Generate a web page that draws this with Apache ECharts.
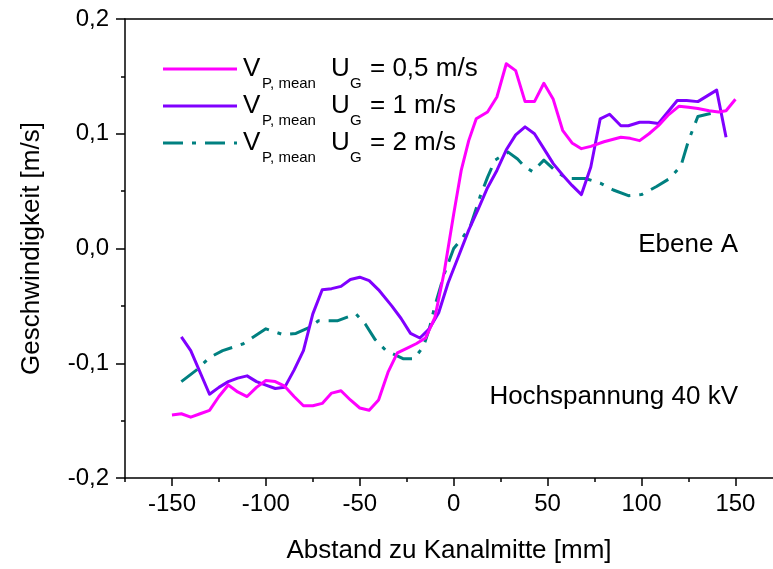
<!DOCTYPE html>
<html>
<head>
<meta charset="utf-8">
<script src="https://cdn.jsdelivr.net/npm/echarts@6/dist/echarts.min.js"></script>
<style>
html,body{margin:0;padding:0;background:#fff;}
#chart{width:773px;height:569px;}
</style>
</head>
<body>
<div id="chart"></div>
<script>
// ---- data (x in mm, y in m/s) ----
const seriesNames = ['V_P,mean U_G = 0,5 m/s', 'V_P,mean U_G = 1 m/s', 'V_P,mean U_G = 2 m/s'];
const legendValues = ['0,5 m/s', '1 m/s', '2 m/s'];

const dataUG05 = [
  [-150,-0.145],[-145,-0.144],[-140,-0.147],[-135,-0.144],[-130,-0.141],[-125,-0.129],
  [-120,-0.119],[-115,-0.125],[-110,-0.129],[-105,-0.121],[-100,-0.115],[-95,-0.116],
  [-90,-0.120],[-85,-0.129],[-80,-0.137],[-75,-0.137],[-70,-0.135],[-65,-0.126],
  [-60,-0.124],[-55,-0.132],[-50,-0.139],[-45,-0.141],[-40,-0.132],[-35,-0.108],
  [-30,-0.091],[-25,-0.087],[-20,-0.083],[-15,-0.078],[-10,-0.060],[-5,-0.020],
  [0,0.030],[4,0.068],[8,0.094],[12,0.113],[18,0.119],[23,0.132],[28,0.161],
  [33,0.155],[38,0.128],[43,0.128],[48,0.144],[53,0.130],[58,0.103],[63,0.092],
  [68,0.087],[73,0.089],[80,0.093],[89,0.097],[94,0.096],[99,0.094],[104,0.100],
  [109,0.107],[114,0.116],[120,0.124],[125,0.123],[130,0.122],[136,0.120],
  [141,0.119],[145,0.120],[150,0.130]
];

const dataUG1 = [
  [-145,-0.077],[-140,-0.089],[-130,-0.127],[-125,-0.121],[-120,-0.116],[-115,-0.113],
  [-110,-0.111],[-105,-0.116],[-100,-0.119],[-95,-0.122],[-90,-0.121],[-85,-0.106],
  [-80,-0.089],[-75,-0.057],[-70,-0.036],[-65,-0.035],[-60,-0.033],[-55,-0.027],
  [-50,-0.025],[-45,-0.028],[-40,-0.036],[-33,-0.050],[-28,-0.061],[-23,-0.074],
  [-18,-0.078],[-13,-0.070],[-8,-0.056],[-3,-0.030],[3,-0.005],[8,0.016],[13,0.034],
  [18,0.053],[23,0.068],[28,0.086],[33,0.099],[38,0.106],[43,0.100],[48,0.087],
  [53,0.074],[58,0.064],[63,0.055],[68,0.047],[73,0.071],[78,0.113],[83,0.117],
  [89,0.107],[93,0.107],[99,0.110],[104,0.110],[109,0.109],[114,0.119],[119,0.129],
  [124,0.129],[130,0.128],[135,0.133],[140,0.138],[145,0.097]
];

const dataUG2 = [
  [-145,-0.116],[-137,-0.106],[-130,-0.095],[-123,-0.089],[-112,-0.083],[-100,-0.070],
  [-91,-0.075],[-84,-0.074],[-77,-0.069],[-72,-0.063],[-62,-0.063],[-52,-0.057],
  [-47,-0.066],[-42,-0.079],[-36,-0.089],[-27,-0.096],[-21,-0.096],[-16,-0.085],
  [-13,-0.070],[-10,-0.050],[-5,-0.022],[0,0.000],[5,0.010],[9,0.020],[14,0.045],
  [18,0.062],[22,0.077],[29,0.084],[34,0.078],[38,0.071],[42,0.067],[48,0.077],
  [54,0.068],[60,0.061],[70,0.061],[78,0.057],[85,0.051],[93,0.046],[100,0.047],
  [108,0.054],[115,0.061],[121,0.072],[125,0.094],[130,0.115],[135,0.117],[141,0.119]
];

const xMajorTicks = [-150,-100,-50,0,50,100,150];
const xMinorTicks = [-175,-125,-75,-25,25,75,125];
const yTickLabels = {'-0.2':'-0,2','-0.1':'-0,1','0':'0,0','0.1':'0,1','0.2':'0,2'};

// ---- chart ----
const FONT = 'Liberation Sans, Arial, sans-serif';
const chart = echarts.init(document.getElementById('chart'), null, {renderer:'canvas'});

const colors = ['#FF00FF', '#8000FF', '#008080'];
const dashUG2 = [20, 9, 4, 9];
const lineTypes = ['solid', 'solid', dashUG2];
const datasets = [dataUG05, dataUG1, dataUG2];

// legend drawn as graphic elements (line sample + text with subscripts)
const legendRowsY = [69, 106, 143];
const legendGraphic = [];
legendRowsY.forEach((y, i) => {
  legendGraphic.push({type:'line', shape:{x1:163, y1:y, x2:237, y2:y},
    style:{stroke:colors[i], lineWidth:3, lineDash: i === 2 ? dashUG2 : null}});
  const t = (text, x, dy, size) => ({type:'text', x:x, y:y + dy,
    style:{text:text, fontSize:size, fontFamily:FONT, fill:'#000', align:'left', verticalAlign:'middle'}});
  legendGraphic.push(t('V', 243, 0, 26));
  legendGraphic.push(t('P, mean', 262, 15, 15));
  legendGraphic.push(t('U', 331, 0, 26));
  legendGraphic.push(t('G', 350, 15, 15));
  legendGraphic.push(t('= ' + legendValues[i], 370, 0, 26));
});

const option = {
  animation: false,
  backgroundColor: '#fff',
  grid: {left:125, right:0, top:19, bottom:89, containLabel:false},
  xAxis: [
    {
      type:'value', min:-175, max:170, position:'bottom',
      axisLine:{show:true, onZero:false, lineStyle:{color:'#000', width:1.5}},
      axisTick:{show:true, inside:false, length:8, customValues:xMajorTicks, lineStyle:{color:'#000', width:1.5}},
      axisLabel:{show:true, customValues:xMajorTicks, margin:14, fontSize:24, fontFamily:FONT, color:'#000',
        formatter: v => String(v)},
      splitLine:{show:false},
      name:'Abstand zu Kanalmitte [mm]', nameLocation:'middle', nameGap:60,
      nameTextStyle:{fontSize:26, fontFamily:FONT, color:'#000'}
    },
    {
      type:'value', min:-175, max:170, position:'bottom',
      axisLine:{show:false, onZero:false},
      axisTick:{show:true, length:4, customValues:xMinorTicks, lineStyle:{color:'#000', width:1.5}},
      axisLabel:{show:false}, splitLine:{show:false}
    },
    {
      type:'value', min:-175, max:170, position:'top',
      axisLine:{show:true, onZero:false, lineStyle:{color:'#000', width:1.5}},
      axisTick:{show:false}, axisLabel:{show:false}, splitLine:{show:false}
    }
  ],
  yAxis: [
    {
      type:'value', min:-0.2, max:0.2, interval:0.1, position:'left',
      axisLine:{show:true, onZero:false, lineStyle:{color:'#000', width:1.5}},
      axisTick:{show:true, length:9, lineStyle:{color:'#000', width:1.5}},
      minorTick:{show:true, splitNumber:2, length:4, lineStyle:{color:'#000', width:1.5}},
      axisLabel:{margin:16, fontSize:24, fontFamily:FONT, color:'#000',
        formatter: v => yTickLabels[String(Math.round(v*10)/10)] || ''},
      splitLine:{show:false},
      name:'Geschwindigkeit [m/s]', nameLocation:'middle', nameGap:80,
      nameTextStyle:{fontSize:26, fontFamily:FONT, color:'#000'}
    }
  ],
  series: datasets.map((d, i) => ({
    name: seriesNames[i],
    type: 'line',
    xAxisIndex: 0, yAxisIndex: 0,
    data: d,
    showSymbol: false, symbol: 'none',
    lineStyle: {color: colors[i], width: 3, type: lineTypes[i], cap:'butt', join:'round'},
    itemStyle: {color: colors[i]},
    z: 3 - i
  })),
  graphic: legendGraphic.concat([
    {type:'text', x:738, y:245, style:{text:'Ebene A', fontSize:26, fontFamily:FONT, fill:'#000', align:'right', verticalAlign:'middle'}},
    {type:'text', x:738, y:397, style:{text:'Hochspannung 40 kV', fontSize:26, fontFamily:FONT, fill:'#000', align:'right', verticalAlign:'middle'}}
  ])
};
chart.setOption(option);
</script>
</body>
</html>
